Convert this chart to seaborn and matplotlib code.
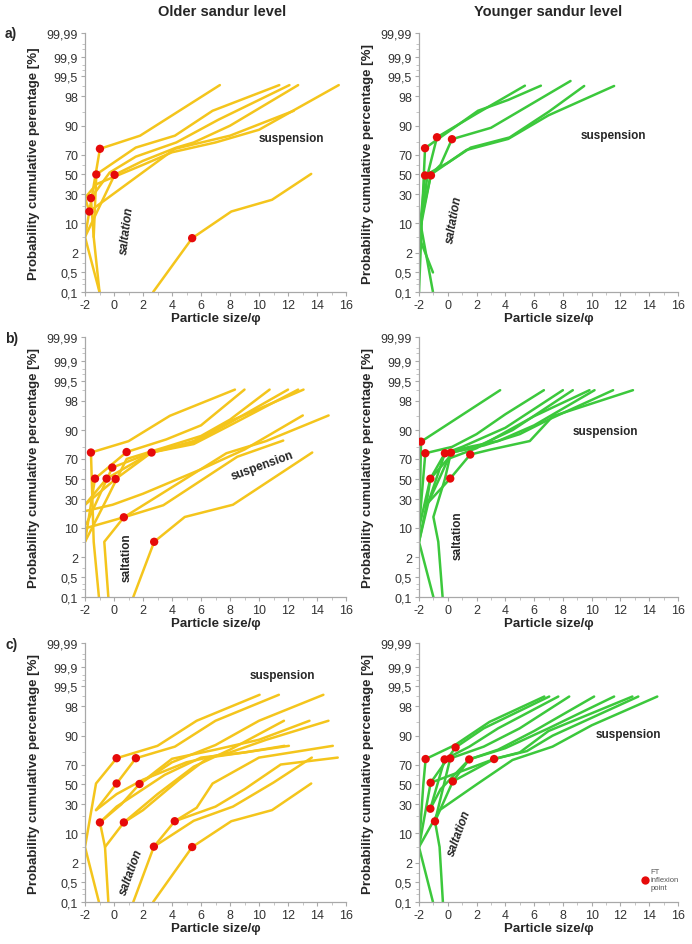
import numpy as np
import pandas as pd
import matplotlib
matplotlib.use("Agg")
import matplotlib.pyplot as plt
from matplotlib.lines import Line2D
import seaborn as sns
from statistics import NormalDist

# ---- data: particle size (phi) vs cumulative probability (%) ----
# a) older sandur level
old_a_x = [[-1.0, -2.0, -0.97, 1.8, 7.3],
           [-1.4, -1.22, 1.5, 4.2, 6.8, 11.4],
           [-1.0, -1.4, -1.59, -0.3, 1.5, 4.3, 7.2, 12.1],
           [-2.0, 0.04, 2.0, 4.3, 5.5, 8.0, 12.7],
           [-2.0, -1.7, 4.2, 8.0, 12.4],
           [-2.0, -1.2, 2.0, 4.0, 7.0, 10.0, 15.5],
           [2.7, 5.39, 8.09, 10.9, 13.6]]
old_a_p = [[0.1, 5, 75, 84.6, 99.06],
           [5, 50, 76, 84.6, 95.3, 99.06],
           [0.1, 5, 26.7, 52, 68, 80, 92.5, 99.06],
           [5, 49.6, 64, 76, 80, 90, 99.06],
           [27, 16.5, 75, 84.6, 95.3],
           [27, 40, 60, 72, 80, 88, 99.06],
           [0.1, 4.7, 16.5, 25.3, 50.6]]
old_a_dot_x = [-0.97, -1.22, 0.04, -1.59, -1.70, 5.39]
old_a_dot_p = [75, 50, 49.6, 26.7, 16.5, 4.7]

# a) younger sandur level
young_a_x = [[-2.0, -1.8, -1.58, 2.1, 4.2, 6.47],
             [-1.03, -2.0, -1.4, -0.75, 2.0, 5.36],
             [-1.03, -1.9, -1.17, -0.5, 0.29, 3.0, 8.53],
             [-2.0, -1.58, 0.0, 1.6, 4.3, 7.0, 9.48],
             [-1.9, -1.17, 1.3, 4.2, 7.0, 11.56]]
young_a_p = [[0.1, 12, 75.5, 95.3, 97.5, 99.02],
             [0.5, 5, 50, 83.6, 94.5, 99.02],
             [0.1, 10, 50, 60, 82.3, 89, 99.3],
             [5, 49, 62, 76, 83.5, 95, 99.0],
             [8, 50, 74, 82.5, 94, 99.0]]
young_a_dot_x = [-1.58, -1.58, -1.17, -0.75, 0.29]
young_a_dot_p = [75.5, 49, 49, 83.6, 82.3]

# b) older sandur level
old_b_x = [[-1.04, -1.4, -1.59, 1.0, 3.85, 8.34],
           [-2.0, -1.31, 0.87, 3.6, 6.0, 9.0],
           [-2.0, -0.51, 2.59, 5.5, 8.0, 12.0],
           [-1.9, -0.12, 2.59, 5.5, 8.0, 12.7],
           [-2.0, 0.11, 2.59, 5.5, 8.0, 13.07],
           [-2.0, -0.5, 0.87, 3.6, 6.0, 8.0, 10.73],
           [-0.39, -0.67, 0.68, 3.4, 8.5, 11.67],
           [-1.9, 0.68, 7.75, 10.5, 14.8],
           [1.33, 2.77, 4.88, 8.2, 13.67],
           [-2.0, -0.1, 2.0, 6.0, 9.0, 13.02]]
old_b_p = [[0.1, 5, 75.6, 83.9, 95.1, 99.04],
           [5, 50.4, 76, 85, 92, 99.04],
           [25, 50.4, 75.6, 83, 93, 99.04],
           [12, 61.8, 75.6, 82, 92, 99.04],
           [25, 50, 75.6, 84, 93.5, 99.04],
           [5, 30, 70, 80, 87, 94, 99.04],
           [0.1, 5, 15.8, 24.6, 72, 84.3],
           [10, 15.8, 75, 84, 95.2],
           [0.1, 5, 16, 25, 75.6],
           [20, 25, 35, 60, 78, 95.2]]
old_b_dot_x = [-1.59, 0.87, 2.59, -0.12, -1.31, -0.51, 0.11, 0.68, 2.77]
old_b_dot_p = [75.6, 76, 75.6, 61.8, 50.4, 50.4, 50, 15.8, 5]

# b) younger sandur level
young_b_x = [[-1.0, -2.0, -1.86, 3.64],
             [-2.0, -1.56, 0.3, 2.0, 4.0, 6.68],
             [-2.0, -1.56, -1.21, -0.2, 1.0, 4.0, 8.0],
             [-1.35, -0.6, 0.22, 2.0, 4.5, 8.69],
             [-2.0, -1.35, 0.17, 1.56, 3.0, 5.7, 7.3, 12.87],
             [-0.36, -0.66, -1.0, -0.2, 0.22, 2.5, 5.0, 7.0, 11.49],
             [-2.0, -1.21, 0.0, 2.0, 4.0, 6.0, 9.85],
             [-1.35, -0.2, 1.5, 3.5, 6.0, 10.2]]
young_b_p = [[0.1, 5, 83.6, 99.0],
             [10, 75, 80, 88, 95.5, 99.0],
             [5, 20, 50.3, 75, 80, 91, 99.0],
             [27, 50, 75.5, 80, 90, 99.0],
             [5, 27, 50.5, 73.9, 78, 84, 95, 99.0],
             [0.1, 5, 16, 50, 75.5, 81, 88, 94, 99.0],
             [10, 50.3, 70, 79, 89, 95, 99.0],
             [27, 75, 80, 84, 92, 99.0]]
young_b_dot_x = [-1.86, -1.56, -1.21, -0.2, 0.22, 0.17, 1.56]
young_b_dot_p = [83.6, 75, 50.3, 75, 75.5, 50.5, 73.9]

# c) older sandur level
old_c_x = [[-1.04, -2.0, -1.24, 0.18, 3.0, 5.7, 10.04],
           [-1.24, 0.18, 1.51, 4.2, 7.0, 11.37],
           [-0.97, 0.5, 1.76, 4.0, 7.0, 10.0, 14.44],
           [-0.39, -0.62, -0.97, 0.18, 3.5, 6.0, 9.0, 12.06],
           [-0.62, 0.68, 2.0, 4.5, 6.5, 9.0, 11.76],
           [0.68, 3.0, 5.5, 8.0, 11.72],
           [1.76, 4.0, 7.0, 10.0, 13.48],
           [-1.24, 0.18, 2.0, 5.0, 8.0, 10.5, 14.79],
           [1.33, 2.75, 4.19, 5.7, 6.8, 10.0, 15.09],
           [2.75, 5.5, 8.2, 11.0, 13.64],
           [4.19, 7.0, 9.0, 11.5, 15.43],
           [2.70, 5.39, 8.09, 10.9, 13.6]]
old_c_p = [[0.1, 5, 51, 75.5, 84.5, 95.3, 99.08],
           [25, 51, 75.5, 84, 95.3, 99.08],
           [15.9, 30, 50.5, 72, 85, 95.3, 99.08],
           [0.1, 5, 15.9, 28, 60, 76, 80, 84.5],
           [5, 15.9, 25, 55, 76, 80, 84.5],
           [15.9, 40, 68, 82, 95.3],
           [50.5, 75, 82, 88, 95.3],
           [25, 40, 55, 72, 80, 88, 95.3],
           [0.1, 5.1, 16.7, 27, 51, 76, 84.5],
           [5.1, 17, 28, 52, 76],
           [16.7, 28, 45, 70, 76],
           [0.1, 5.0, 16.7, 25, 51]]
old_c_dot_x = [0.18, 1.51, 0.18, 1.76, -0.97, 0.68, 4.19, 2.75, 5.39]
old_c_dot_p = [75.5, 75.5, 51, 50.5, 15.9, 15.9, 16.7, 5.1, 5.0]

# c) younger sandur level
young_c_x = [[-1.03, -2.0, -1.7, -1.54, 0.5, 2.9, 6.71],
             [-2.0, -1.19, 0.54, 2.5, 7.05],
             [-1.21, -0.22, 1.5, 3.5, 7.68],
             [-0.34, -0.57, -0.89, 0.17, 2.5, 5.0, 8.44],
             [-1.21, -0.5, 1.49, 3.5, 6.0, 10.17],
             [-0.89, 0.35, 1.49, 4.0, 7.0, 11.56],
             [-1.19, 3.22, 5.0, 7.0, 12.83],
             [0.35, 3.22, 5.5, 7.28, 13.24],
             [-2.0, -0.57, 2.0, 4.5, 7.28, 10.0, 14.56]]
young_c_p = [[0.1, 5, 50, 74.8, 85, 95, 98.96],
             [5, 51.8, 83.5, 93, 98.96],
             [26.2, 74.5, 84, 93, 98.96],
             [0.1, 5, 16.6, 75.3, 84, 93, 98.96],
             [26.2, 45, 74.5, 82, 92, 98.96],
             [16.6, 53.2, 74.5, 83, 93, 98.96],
             [51.8, 74.8, 80, 92, 98.96],
             [53.2, 74.8, 81, 90, 98.96],
             [5, 25, 50, 74, 84, 94, 98.96]]
young_c_dot_x = [-1.54, 0.54, -0.22, 0.17, 1.49, 3.22, -1.19, 0.35, -1.21, -0.89]
young_c_dot_p = [74.8, 83.5, 74.5, 75.3, 74.5, 74.8, 51.8, 53.2, 26.2, 16.6]

y_ticks = [0.1, 0.5, 2, 10, 30, 50, 70, 90, 98, 99.5, 99.9, 99.99]
y_tick_labels = ["0,1", "0,5", "2", "10", "30", "50", "70", "90", "98", "99,5", "99,9", "99,99"]
y_minor = [0.2, 0.3, 1, 5, 20, 40, 60, 80, 95, 99, 99.7, 99.8, 99.95, 99.97]
x_ticks = list(range(-2, 17, 2))

OLD_COLOR = "#f4c51c"
YOUNG_COLOR = "#3cc83c"
DOT_COLOR = "#e60a0a"

sns.set_style("ticks")
plt.rcParams["font.family"] = ["Liberation Sans", "DejaVu Sans"]
plt.rcParams["axes.unicode_minus"] = False

_nd = NormalDist()
_ppf = np.vectorize(_nd.inv_cdf, otypes=[float])
_cdf = np.vectorize(_nd.cdf, otypes=[float])


def probit(p):
    p = np.clip(np.asarray(p, dtype=float) / 100.0, 1e-9, 1 - 1e-9)
    return _ppf(p)


def inv_probit(z):
    return _cdf(np.asarray(z, dtype=float)) * 100.0


def draw_panel(ax, xs, ps, dot_x, dot_p, color, ylabel):
    rows = []
    for i, (x, p) in enumerate(zip(xs, ps)):
        for xi, pi in zip(x, p):
            rows.append((i, xi, pi))
    df = pd.DataFrame(rows, columns=["sample", "phi", "cum"])
    sns.lineplot(data=df, x="phi", y="cum", units="sample", estimator=None,
                 sort=False, color=color, lw=1.8, ax=ax)
    sns.scatterplot(x=dot_x, y=dot_p, color=DOT_COLOR, s=36, edgecolor="none",
                    zorder=5, ax=ax)
    ax.set_yscale("function", functions=(probit, inv_probit))
    ax.set_ylim(0.1, 99.99)
    ax.set_xlim(-2, 16)
    ax.set_yticks(y_ticks, y_tick_labels)
    ax.set_yticks(y_minor, minor=True)
    ax.set_xticks(x_ticks)
    ax.set_xticks(list(range(-1, 16, 2)), minor=True)
    ax.tick_params(axis="both", which="major", labelsize=9, labelcolor="#333333",
                   color="#aaaaaa", length=3, width=0.8, pad=2)
    ax.tick_params(axis="both", which="minor", color="#bbbbbb", length=2, width=0.6)
    for s in ["top", "right"]:
        ax.spines[s].set_visible(False)
    for s in ["left", "bottom"]:
        ax.spines[s].set_color("#a8a8a8")
        ax.spines[s].set_linewidth(0.9)
    ax.set_xlabel("Particle size/φ", fontsize=9.5, fontweight="bold", labelpad=1)
    ax.set_ylabel(ylabel, fontsize=9.5, fontweight="bold", labelpad=5)


fig = plt.figure(figsize=(6.92, 9.45), dpi=100)
W, H = 692, 945
lefts = [85, 419]
widths = [261, 259]
rows_px = [(34, 293), (338, 598), (644, 903)]

axes = []
for top, bot in rows_px:
    row = []
    for l, w in zip(lefts, widths):
        row.append(fig.add_axes([l / W, 1 - bot / H, w / W, (bot - top) / H]))
    axes.append(row)

ylab = "Probability cumulative percentage [%]"
draw_panel(axes[0][0], old_a_x, old_a_p, old_a_dot_x, old_a_dot_p, OLD_COLOR,
           "Probability cumulative perentage [%]")
draw_panel(axes[0][1], young_a_x, young_a_p, young_a_dot_x, young_a_dot_p, YOUNG_COLOR, ylab)
draw_panel(axes[1][0], old_b_x, old_b_p, old_b_dot_x, old_b_dot_p, OLD_COLOR, ylab)
draw_panel(axes[1][1], young_b_x, young_b_p, young_b_dot_x, young_b_dot_p, YOUNG_COLOR, ylab)
draw_panel(axes[2][0], old_c_x, old_c_p, old_c_dot_x, old_c_dot_p, OLD_COLOR, ylab)
draw_panel(axes[2][1], young_c_x, young_c_p, young_c_dot_x, young_c_dot_p, YOUNG_COLOR, ylab)

# process labels
kw = dict(fontsize=8.5, fontweight="bold", ha="center", va="center")
axes[0][0].text(12.25, 83, "suspension", **kw)
axes[0][0].text(0.89, 7.1, "saltation", rotation=83, style="italic", **kw)
axes[0][1].text(11.5, 85, "suspension", **kw)
axes[0][1].text(0.45, 12, "saltation", rotation=80, style="italic", **kw)
axes[1][0].text(10.2, 64, "suspension", rotation=20, **kw)
axes[1][0].text(0.87, 2.1, "saltation", rotation=90, **kw)
axes[1][1].text(10.96, 89.6, "suspension", **kw)
axes[1][1].text(0.66, 7.1, "saltation", rotation=90, **kw)
axes[2][0].text(11.6, 99.8, "suspension", **kw)
axes[2][0].text(1.17, 1.15, "saltation", rotation=70, style="italic", **kw)
axes[2][1].text(12.55, 90.8, "suspension", **kw)
axes[2][1].text(0.82, 10.5, "saltation", rotation=70, style="italic", **kw)

handle = Line2D([], [], marker="o", color="none", markerfacecolor=DOT_COLOR,
                markeredgecolor="none", markersize=6)
axes[2][1].legend([handle], ["FT\ninflexion\npoint"], fontsize=5.5, frameon=False,
                  loc="center left", bbox_to_anchor=(0.845, 0.085),
                  handlelength=0.8, handletextpad=0.4, borderpad=0,
                  labelcolor="#555555")

fig.text(222 / W, 1 - 12 / H, "Older sandur level", fontsize=10.5, fontweight="bold",
         ha="center", va="center")
fig.text(548 / W, 1 - 12 / H, "Younger sandur level", fontsize=10.5, fontweight="bold",
         ha="center", va="center")
for lab, ypx in zip(["a)", "b)", "c)"], [34, 339, 645]):
    fig.text(5 / W, 1 - ypx / H, lab, fontsize=10, fontweight="bold",
             ha="left", va="center")

fig.savefig("out.png", dpi=100)
